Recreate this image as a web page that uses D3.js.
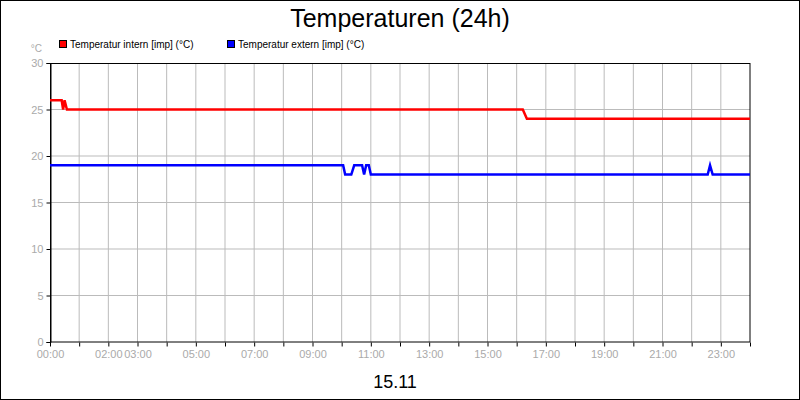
<!DOCTYPE html>
<html><head><meta charset="utf-8">
<script src="https://cdn.jsdelivr.net/npm/d3@7"></script>
<style>body{margin:0}svg{display:block;font-family:"Liberation Sans",Arial,sans-serif}</style>
</head><body><svg id="c" width="800" height="400"></svg>
<script>
// hours since 00:00, value in °C
const internHours = [0, 0.4, 0.45, 0.5, 0.58, 16.21, 16.35, 24];
const internVals  = [26, 26, 25, 26, 25, 25, 24, 24];
const externHours = [0, 10.05, 10.12, 10.33, 10.43, 10.7, 10.77, 10.84, 10.93, 11.0, 22.55, 22.63, 22.72, 24];
const externVals  = [19, 19, 18, 18, 19, 19, 18, 19, 19, 18, 18, 19, 18, 18];
const xLabelHours = [0, 2, 3, 5, 7, 9, 11, 13, 15, 17, 19, 21, 23];
const yTicks = [0, 5, 10, 15, 20, 25, 30];

const svg = d3.select("#c");
svg.append("rect").attr("x",0.5).attr("y",0.5).attr("width",799).attr("height",399)
  .attr("fill","#fff").attr("stroke","#000");

const x = d3.scaleLinear().domain([0,24]).range([50,750]);
const y = d3.scaleLinear().domain([0,30]).range([342,63]);

// grid
svg.append("g").selectAll("line").data(d3.range(1,24)).join("line")
  .attr("x1",d=>x(d)).attr("x2",d=>x(d)).attr("y1",63).attr("y2",342)
  .attr("stroke","#bbb");
svg.append("g").selectAll("line").data(yTicks.slice(1,-1)).join("line")
  .attr("x1",50).attr("x2",750).attr("y1",d=>y(d)).attr("y2",d=>y(d))
  .attr("stroke","#bbb");
svg.append("rect").attr("x",50.5).attr("y",63.5).attr("width",699.5).attr("height",278.5)
  .attr("fill","none").attr("stroke","#000");

// axes
const yAx = svg.append("g").attr("transform","translate(50.5,0)")
  .call(d3.axisLeft(y).tickValues(yTicks).tickSize(4).tickPadding(3));
const xAx = svg.append("g").attr("transform","translate(0,342.5)")
  .call(d3.axisBottom(x).tickValues(d3.range(0,25)).tickSize(4).tickPadding(4)
    .tickFormat(d=>xLabelHours.includes(d) ? String(d).padStart(2,"0")+":00" : ""));
[yAx,xAx].forEach(a=>{
  a.selectAll("path,line").attr("stroke","#000");
  a.selectAll("text").attr("fill","#aaa").style("font-size","11px").style("font-family","Liberation Sans");
});
xAx.select(".domain").remove();

// lines
const line = d3.line().x(d=>x(d[0])).y(d=>y(d[1]));
svg.append("path").datum(d3.zip(internHours,internVals)).attr("d",line)
  .attr("fill","none").attr("stroke","#f00").attr("stroke-width",2.5);
svg.append("path").datum(d3.zip(externHours,externVals)).attr("d",line)
  .attr("fill","none").attr("stroke","#00f").attr("stroke-width",2.5);

// texts
svg.append("text").attr("x",400).attr("y",27).attr("text-anchor","middle")
  .style("font-size","25px").text("Temperaturen (24h)");
svg.append("text").attr("x",42).attr("y",52).attr("text-anchor","end").attr("fill","#aaa")
  .style("font-size","10px").text("°C");
svg.append("text").attr("x",395).attr("y",388).attr("text-anchor","middle")
  .style("font-size","18px").text("15.11");

const legend = [["Temperatur intern [imp] (°C)","#f00",59],["Temperatur extern [imp] (°C)","#00f",227]];
legend.forEach(([t,c,lx])=>{
  svg.append("rect").attr("x",lx+0.5).attr("y",40.5).attr("width",7).attr("height",7)
    .attr("fill",c).attr("stroke","#000");
  svg.append("text").attr("x",lx+11).attr("y",48).style("font-size","10px").text(t);
});
</script></body></html>
